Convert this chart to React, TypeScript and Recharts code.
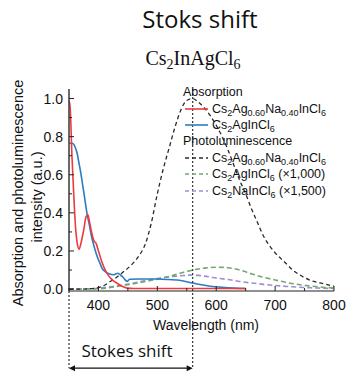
import React from 'react';
import { LineChart, Line, XAxis, YAxis, ReferenceLine, Legend } from 'recharts';

// absorption spectra
const redNm = [350, 352, 355, 358, 361, 364, 367, 371, 375, 379, 382, 385, 389, 393, 396, 400, 405, 410, 415, 420, 425, 432, 440, 449, 460, 500, 550, 600, 650];
const redAbs = [0.99, 0.95, 0.7, 0.5, 0.33, 0.24, 0.21, 0.25, 0.31, 0.38, 0.39, 0.35, 0.29, 0.25, 0.24, 0.2, 0.15, 0.11, 0.08, 0.06, 0.045, 0.03, 0.015, 0.005, 0.003, 0.003, 0.003, 0.003, 0.003];
const blueNm = [350, 355, 358, 361, 364, 367, 370, 373, 376, 381, 385, 388, 393, 398, 402, 406, 412, 418, 425, 430, 433, 437, 441, 445, 449, 453, 470, 500, 520, 540, 555, 570, 590, 610, 630, 650];
const blueAbs = [0.765, 0.765, 0.76, 0.74, 0.71, 0.66, 0.61, 0.55, 0.49, 0.39, 0.33, 0.28, 0.22, 0.17, 0.14, 0.11, 0.09, 0.08, 0.075, 0.08, 0.083, 0.075, 0.065, 0.05, 0.04, 0.052, 0.053, 0.053, 0.05, 0.045, 0.035, 0.025, 0.015, 0.009, 0.005, 0.003];

// photoluminescence spectra
const blackNm = [350, 370, 390, 400, 410, 420, 430, 440, 450, 460, 470, 480, 490, 500, 510, 520, 530, 540, 550, 560, 570, 580, 590, 600, 610, 620, 630, 640, 650, 660, 670, 680, 690, 700, 710, 720, 730, 740, 750, 760, 770, 780, 790, 800];
const blackPl = [0, 0, 0.003, 0.008, 0.02, 0.04, 0.06, 0.085, 0.11, 0.14, 0.18, 0.24, 0.35, 0.5, 0.63, 0.74, 0.85, 0.94, 0.99, 1.0, 0.98, 0.95, 0.91, 0.86, 0.8, 0.73, 0.65, 0.57, 0.5, 0.42, 0.35, 0.28, 0.23, 0.19, 0.16, 0.13, 0.1, 0.078, 0.06, 0.046, 0.037, 0.03, 0.022, 0.015];
const greenNm = [350, 400, 420, 440, 460, 480, 500, 520, 540, 560, 580, 600, 620, 640, 660, 680, 700, 720, 740, 760, 780, 800];
const greenPl = [0, 0.002, 0.008, 0.018, 0.028, 0.04, 0.052, 0.066, 0.084, 0.1, 0.11, 0.115, 0.112, 0.1, 0.08, 0.062, 0.048, 0.034, 0.024, 0.016, 0.01, 0.006];
const purpleNm = [350, 380, 400, 420, 440, 460, 480, 500, 520, 540, 560, 580, 600, 620, 640, 660, 680, 700, 720, 740, 760, 780, 800];
const purplePl = [0, 0.001, 0.005, 0.012, 0.02, 0.032, 0.045, 0.055, 0.064, 0.07, 0.074, 0.068, 0.058, 0.05, 0.04, 0.032, 0.025, 0.019, 0.014, 0.01, 0.007, 0.005, 0.003];

const xTicks = [350, 400, 450, 500, 550, 600, 650, 700, 750, 800];
const yTicks = [0, 0.1, 0.2, 0.3, 0.4, 0.5, 0.6, 0.7, 0.8, 0.9, 1.0];
const xDomain = [350, 800];
const yDomain = [-0.01, 1.05];
const peakNm = 560;
const arrowY = -0.415;

const zip = (xs: number[], ys: number[]) => xs.map((x, i) => ({ x, y: ys[i] }));

const RED = '#ee3a3c';
const BLUE = '#2b7dc2';
const BLACK = '#2a2a2a';
const GREEN = '#72a86e';
const PURPLE = '#9d8dd5';
const AXIS = '#222';
const SANS = '"Liberation Sans", Arial, sans-serif';

const BottomTick = (p: any) => {
  const v = p.payload.value;
  const major = v % 100 === 0;
  return (
    <g>
      <line x1={p.x} x2={p.x} y1={p.y} y2={p.y - (major ? 5 : 3)} stroke={AXIS} />
      {major && v >= 400 && (
        <text x={p.x} y={p.y + 19} textAnchor="middle" fontSize={14} fontFamily={SANS} fill="#111">{v}</text>
      )}
    </g>
  );
};

const TopTick = (p: any) => {
  const major = p.payload.value % 100 === 0;
  return <line x1={p.x} x2={p.x} y1={p.y} y2={p.y + (major ? 5 : 3)} stroke={AXIS} />;
};

const LeftTick = (p: any) => {
  const major = p.index % 2 === 0;
  return (
    <g>
      <line x1={p.x} x2={p.x + (major ? 5 : 3)} y1={p.y} y2={p.y} stroke={AXIS} />
      {major && (
        <text x={p.x - 6} y={p.y + 5} textAnchor="end" fontSize={14} fontFamily={SANS} fill="#111">{p.payload.value.toFixed(1)}</text>
      )}
    </g>
  );
};

const RightTick = (p: any) => {
  const major = p.index % 2 === 0;
  return <line x1={p.x} x2={p.x - (major ? 5 : 3)} y1={p.y} y2={p.y} stroke={AXIS} />;
};

const ArrowShape = (p: any) => {
  const { x1, y1, x2, y2 } = p;
  const h = 6;
  const w = 3;
  return (
    <g>
      <line x1={x1 + 2} y1={y1} x2={x2 - 2} y2={y2} stroke="#111" strokeWidth={1.2} />
      <polygon points={`${x1},${y1} ${x1 + h},${y1 - w} ${x1 + h},${y1 + w}`} fill="#111" />
      <polygon points={`${x2},${y2} ${x2 - h},${y2 - w} ${x2 - h},${y2 + w}`} fill="#111" />
    </g>
  );
};

const Formula = ({ parts }: { parts: [string, boolean][] }) => (
  <span>
    {parts.map(([t, sub], i) =>
      sub ? <sub key={i} style={{ fontSize: '0.72em', verticalAlign: '-0.3em', lineHeight: 0 }}>{t}</sub> : <span key={i}>{t}</span>
    )}
  </span>
);

const alloy: [string, boolean][] = [['Cs', false], ['2', true], ['Ag', false], ['0.60', true], ['Na', false], ['0.40', true], ['InCl', false], ['6', true]];
const agIn: [string, boolean][] = [['Cs', false], ['2', true], ['AgInCl', false], ['6', true]];
const naIn: [string, boolean][] = [['Cs', false], ['2', true], ['NaInCl', false], ['6', true]];

const legendRows = [
  { header: 'Absorption' },
  { color: RED, dash: undefined, parts: alloy, suffix: '' },
  { color: BLUE, dash: undefined, parts: agIn, suffix: '' },
  { header: 'Photoluminescence' },
  { color: BLACK, dash: '4 3', parts: alloy, suffix: '' },
  { color: GREEN, dash: '4 3', parts: agIn, suffix: '\u00a0(\u00d71,000)' },
  { color: PURPLE, dash: '4 3', parts: naIn, suffix: '\u00a0(\u00d71,500)' },
];

const LegendBox = () => (
  <div style={{ fontFamily: SANS, fontSize: 12.5, color: '#111' }}>
    {legendRows.map((r: any, i) => (
      <div key={i} style={{ height: 16.4, display: 'flex', alignItems: 'center', whiteSpace: 'nowrap' }}>
        {r.header ? (
          <span>{r.header}</span>
        ) : (
          <>
            <svg width={29} height={10} style={{ flex: 'none' }}>
              <line x1={2} x2={25} y1={5} y2={5} stroke={r.color} strokeWidth={1.6} strokeDasharray={r.dash} />
            </svg>
            <Formula parts={r.parts} />
            <span>{r.suffix}</span>
          </>
        )}
      </div>
    ))}
  </div>
);

export default function App() {
  return (
    <div style={{ position: 'absolute', left: 0, top: 0, width: 348, height: 372, background: '#fff' }}>
      <LineChart width={348} height={372} margin={{ top: 89, right: 14, bottom: 51, left: 0 }}>
        <XAxis dataKey="x" type="number" domain={xDomain} ticks={xTicks} interval={0} allowDataOverflow
          tickSize={0} tickMargin={0} tickLine={false} height={30} axisLine={{ stroke: AXIS }} tick={(p: any) => <BottomTick {...p} />} />
        <XAxis xAxisId="top" orientation="top" dataKey="x" type="number" domain={xDomain} ticks={xTicks} interval={0}
          tickSize={0} tickMargin={0} tickLine={false} height={0} axisLine={{ stroke: AXIS }} tick={(p: any) => <TopTick {...p} />} />
        <YAxis type="number" domain={yDomain} ticks={yTicks} interval={0} allowDataOverflow width={69}
          tickSize={0} tickMargin={0} tickLine={false} axisLine={{ stroke: '#444', strokeWidth: 1.6 }} tick={(p: any) => <LeftTick {...p} />} />
        <YAxis yAxisId="right" orientation="right" type="number" domain={yDomain} ticks={yTicks} interval={0} width={0}
          tickSize={0} tickMargin={0} tickLine={false} axisLine={{ stroke: AXIS }} tick={(p: any) => <RightTick {...p} />} />

        <Line data={zip(purpleNm, purplePl)} dataKey="y" type="monotone" stroke={PURPLE} strokeWidth={1.6} strokeDasharray="5 3" dot={false} isAnimationActive={false} />
        <Line data={zip(greenNm, greenPl)} dataKey="y" type="monotone" stroke={GREEN} strokeWidth={1.6} strokeDasharray="5 3" dot={false} isAnimationActive={false} />
        <Line data={zip(blackNm, blackPl)} dataKey="y" type="monotone" stroke={BLACK} strokeWidth={1.3} strokeDasharray="4 3" dot={false} isAnimationActive={false} />
        <Line data={zip(blueNm, blueAbs)} dataKey="y" type="monotone" stroke={BLUE} strokeWidth={1.6} dot={false} isAnimationActive={false} />
        <Line data={zip(redNm, redAbs)} dataKey="y" type="monotone" stroke={RED} strokeWidth={1.6} dot={false} isAnimationActive={false} />

        <ReferenceLine segment={[{ x: peakNm, y: yDomain[1] }, { x: peakNm, y: arrowY }]} ifOverflow="visible" stroke="#333" strokeWidth={1.2} strokeDasharray="2 2" />
        <ReferenceLine segment={[{ x: xDomain[0], y: yDomain[0] }, { x: xDomain[0], y: arrowY }]} ifOverflow="visible" stroke="#333" strokeWidth={1.2} strokeDasharray="2 2" />
        <ReferenceLine segment={[{ x: xDomain[0], y: arrowY }, { x: peakNm, y: arrowY }]} ifOverflow="visible" shape={(p: any) => <ArrowShape {...p} />} />

        <Legend layout="horizontal" verticalAlign="middle" align="center" content={() => <LegendBox />}
          wrapperStyle={{ left: 183, top: 84, width: 160, height: 'auto' }} />
      </LineChart>

      <svg width={348} height={372} style={{ position: 'absolute', left: 0, top: 0, pointerEvents: 'none' }}>
        <text x={200} y={28} textAnchor="middle" fontSize={24} fontFamily='"Open Sans", sans-serif' fill="#111">Stoks shift</text>
        <text x={193} y={65} textAnchor="middle" fontSize={20} fontFamily='"Liberation Serif", serif' fill="#111">
          Cs<tspan fontSize={14} dy={4}>2</tspan><tspan dy={-4}>InAgCl</tspan><tspan fontSize={14} dy={4}>6</tspan>
        </text>
        <text transform="translate(23,193) rotate(-90)" textAnchor="middle" fontSize={14.5} fontFamily={SANS} fill="#111">Absorption and photoluminescence</text>
        <text transform="translate(42,197) rotate(-90)" textAnchor="middle" fontSize={14.5} fontFamily={SANS} fill="#111">intensity (a.u.)</text>
        <text x={206} y={330} textAnchor="middle" fontSize={14} fontFamily={SANS} fill="#111">Wavelength (nm)</text>
        <text x={127} y={357} textAnchor="middle" fontSize={17} fontFamily='"Open Sans", sans-serif' fill="#111">Stokes shift</text>
      </svg>
    </div>
  );
}
